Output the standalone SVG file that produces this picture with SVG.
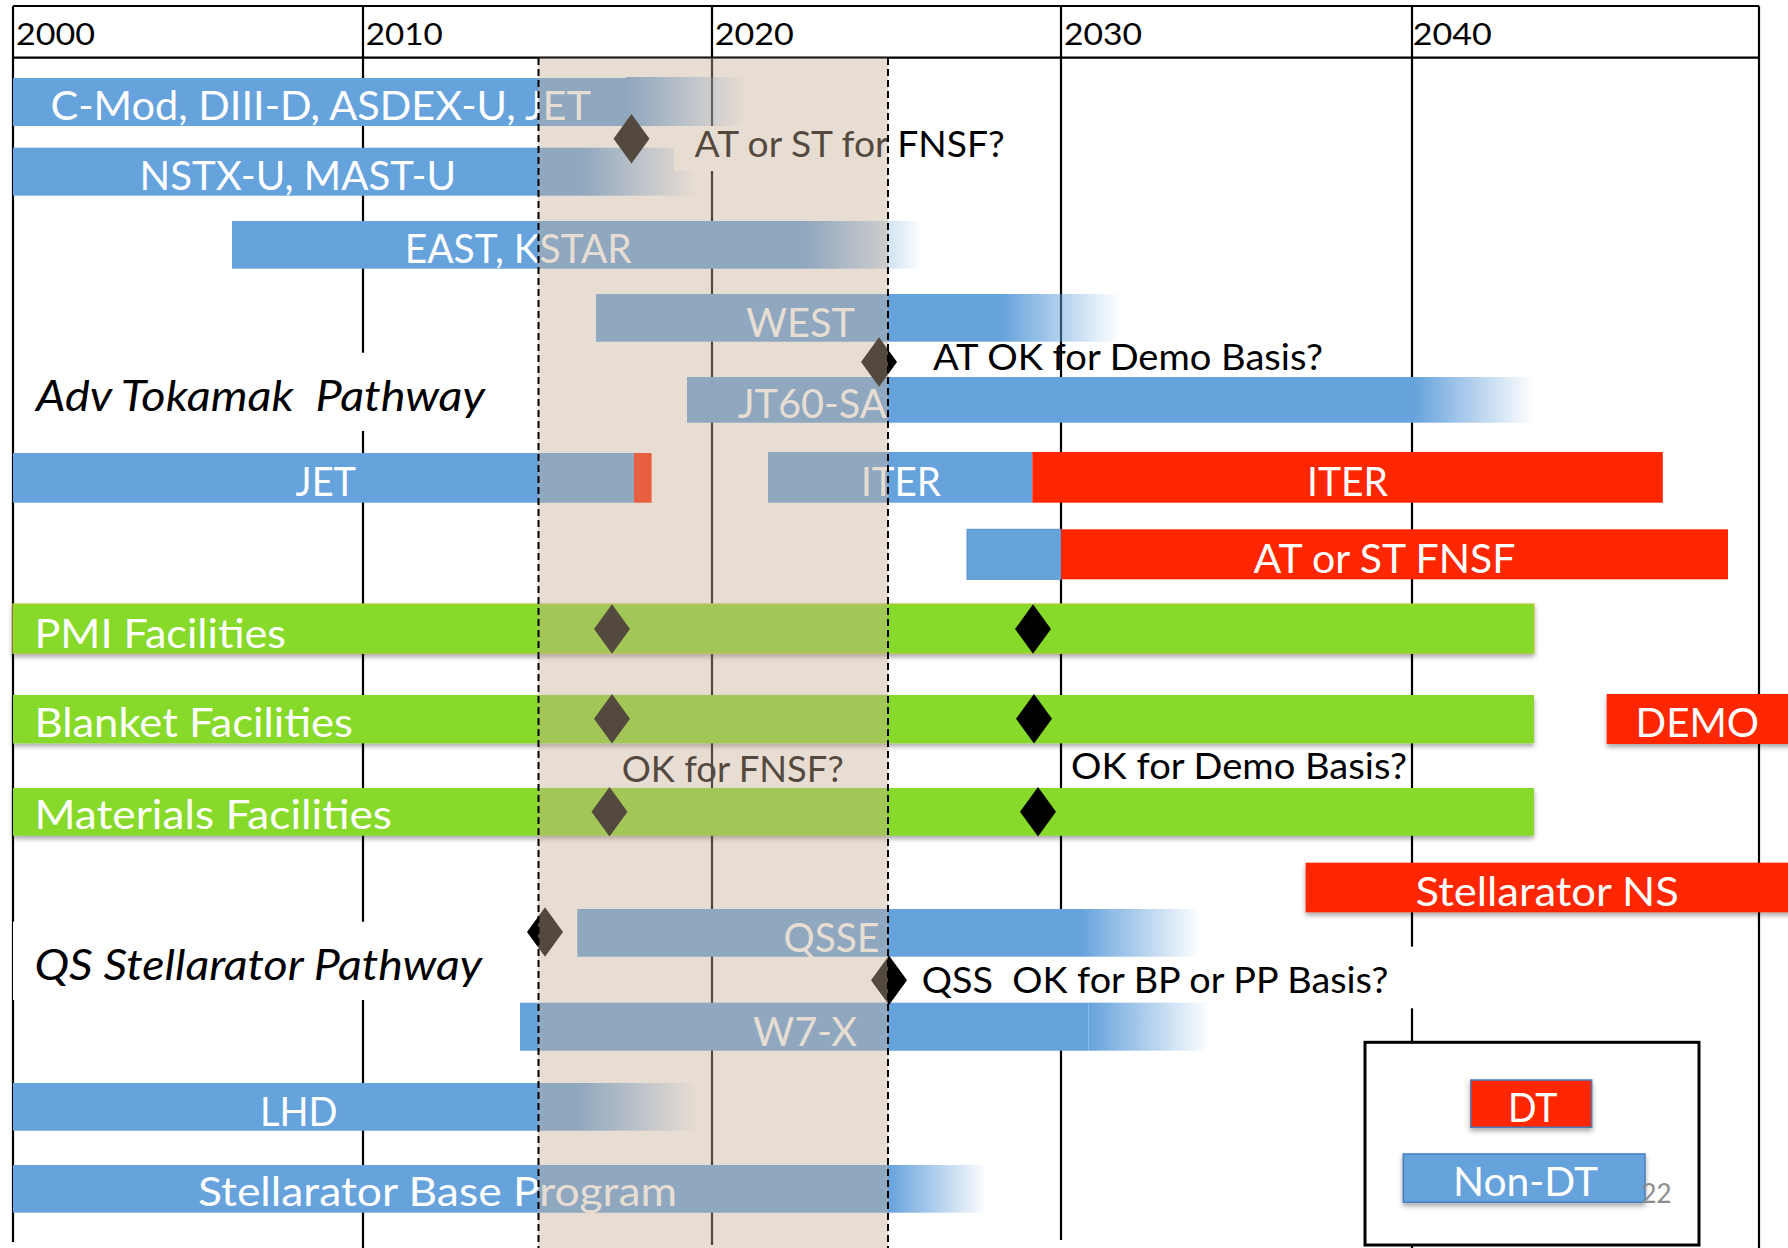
<svg xmlns="http://www.w3.org/2000/svg" xmlns:xlink="http://www.w3.org/1999/xlink" width="1788" height="1248" viewBox="0 0 1788 1248">
<style>
text{font-family:Lato,"Open Sans","Liberation Sans",sans-serif}
.w{fill:#fff;font-size:41px}
.k{fill:#000;font-size:36px}
.yr{fill:#000;font-size:31px}
.it{fill:#000;font-size:43px;font-style:italic}
.blue{fill:#66A2DC}
.red{fill:#FF2600}
.green{fill:#87D92A}
.fade{fill:url(#fade)}
.grid line{stroke:#000;stroke-width:2.2}
.dash{stroke:#000;stroke-width:2;stroke-dasharray:7 4}
.dm{fill:#000}
.sh{filter:url(#shadow)}
</style>
<defs>
<linearGradient id="fade" x1="0" y1="0" x2="1" y2="0">
<stop offset="0" stop-color="#66A2DC" stop-opacity="1"/>
<stop offset="1" stop-color="#66A2DC" stop-opacity="0"/>
</linearGradient>
<filter id="shadow" x="-5%" y="-20%" width="110%" height="150%">
<feDropShadow dx="0" dy="3" stdDeviation="2.5" flood-color="#000" flood-opacity="0.35"/>
</filter>
<path id="diamond" d="M0,-24.7 L18,0 L0,24.7 L-18,0Z"/>
</defs>
<rect width="1788" height="1248" fill="#fff"/>

<g id="grid" class="grid">
<line x1="13" y1="6" x2="1759" y2="6"/>
<line x1="13" y1="57.7" x2="1759" y2="57.7"/>
<line x1="13" y1="6" x2="13" y2="1242"/>
<line x1="363" y1="6" x2="363" y2="1248"/>
<line x1="712" y1="6" x2="712" y2="1245"/>
<line x1="1061" y1="6" x2="1061" y2="1240"/>
<line x1="1412" y1="6" x2="1412" y2="1248"/>
<line x1="1759" y1="6" x2="1759" y2="1248"/>
</g>
<g id="years">
<text class="yr" x="16" y="45" textLength="79" lengthAdjust="spacingAndGlyphs">2000</text>
<text class="yr" x="365.7" y="45" textLength="77" lengthAdjust="spacingAndGlyphs">2010</text>
<text class="yr" x="714.7" y="45" textLength="79" lengthAdjust="spacingAndGlyphs">2020</text>
<text class="yr" x="1064" y="45" textLength="78" lengthAdjust="spacingAndGlyphs">2030</text>
<text class="yr" x="1412.7" y="45" textLength="79" lengthAdjust="spacingAndGlyphs">2040</text>
</g>

<g id="adv-tokamak-label">
<rect x="16" y="352.7" width="484" height="78.3" fill="#fff"/>
<text class="it" x="36" y="410.7" textLength="449" lengthAdjust="spacingAndGlyphs" xml:space="preserve">Adv Tokamak  Pathway</text>
</g>
<g id="qs-stellarator-label">
<rect x="13" y="921.7" width="487" height="78.3" fill="#fff"/>
<text class="it" x="34.4" y="980" textLength="447.6" lengthAdjust="spacingAndGlyphs">QS Stellarator Pathway</text>
</g>
<g id="qss-question-box">
<rect x="890" y="946.7" width="530" height="61.6" fill="#fff"/>
</g>

<g id="bar-cmod">
<rect class="blue" x="13" y="78" width="613" height="48"/>
<rect class="fade" x="626" y="77" width="121" height="49"/>
<text class="w" x="50.5" y="120" textLength="540.5" lengthAdjust="spacingAndGlyphs">C-Mod, DIII-D, ASDEX-U, JET</text>
</g>
<g id="bar-nstx">
<rect class="blue" x="13" y="147.7" width="567" height="48"/>
<rect class="fade" x="580" y="147.7" width="117" height="48"/>
<text class="w" x="139.5" y="190" textLength="316.5" lengthAdjust="spacingAndGlyphs">NSTX-U, MAST-U</text>
</g>
<g id="q-at-st-fnsf">
<rect x="674" y="126" width="341" height="45" fill="#fff"/>
<text class="k" x="694.6" y="157" textLength="310" lengthAdjust="spacingAndGlyphs">AT or ST for FNSF?</text>
</g>
<g id="bar-east">
<rect class="blue" x="232" y="221" width="572" height="47.7"/>
<rect class="fade" x="804" y="221" width="119" height="47.7"/>
<text class="w" x="404.7" y="263" textLength="227" lengthAdjust="spacingAndGlyphs">EAST, KSTAR</text>
</g>
<g id="bar-west">
<rect class="blue" x="596" y="294" width="405" height="47.7"/>
<rect class="fade" x="1001" y="294" width="119" height="47.7"/>
<text class="w" x="746" y="336.7" textLength="109" lengthAdjust="spacingAndGlyphs">WEST</text>
</g>
<g id="q-at-demo">
<text class="k" x="933" y="370" textLength="390" lengthAdjust="spacingAndGlyphs">AT OK for Demo Basis?</text>
</g>
<g id="bar-jt60">
<rect class="blue" x="687" y="377" width="726" height="45.7"/>
<rect class="fade" x="1413" y="377" width="121" height="45.7"/>
<text class="w" x="737.7" y="418.3" textLength="149" lengthAdjust="spacingAndGlyphs">JT60-SA</text>
</g>
<g id="bar-jet">
<rect class="blue" x="13" y="453" width="621" height="49.7"/>
<rect class="red" x="634" y="453" width="17.6" height="49.7"/>
<text class="w" x="295.6" y="496" textLength="60.4" lengthAdjust="spacingAndGlyphs">JET</text>
</g>
<g id="bar-iter">
<rect class="blue" x="768" y="452" width="264.3" height="50.7"/>
<rect class="red" x="1032.3" y="452" width="630.5" height="50.7"/>
<text class="w" x="861" y="496" textLength="80" lengthAdjust="spacingAndGlyphs">ITER</text>
<text class="w" x="1307" y="496" textLength="81" lengthAdjust="spacingAndGlyphs">ITER</text>
</g>
<g id="bar-fnsf">
<rect class="blue" x="967" y="529.3" width="94" height="50" stroke="#5B8FC9" stroke-width="1"/>
<rect class="red" x="1061" y="529.3" width="667" height="50"/>
<text class="w" x="1253.5" y="573.3" textLength="262" lengthAdjust="spacingAndGlyphs">AT or ST FNSF</text>
</g>
<g id="bar-pmi">
<rect class="green sh" x="13" y="604" width="1521" height="49.3" stroke="#B8C93A" stroke-width="1.2"/>
<text class="w" x="34.4" y="648.3" textLength="251.6" lengthAdjust="spacingAndGlyphs">PMI Facilities</text>
</g>
<g id="bar-blanket">
<rect class="green sh" x="13" y="695" width="1521" height="48.3"/>
<text class="w" x="34.4" y="736.7" textLength="318.6" lengthAdjust="spacingAndGlyphs">Blanket Facilities</text>
</g>
<g id="bar-demo">
<rect class="red sh" x="1606.7" y="694" width="190" height="50"/>
<text class="w" x="1635.6" y="736.7" textLength="123.4" lengthAdjust="spacingAndGlyphs">DEMO</text>
</g>
<g id="q-ok-fnsf">
<text class="k" x="621.7" y="781.7" textLength="222" lengthAdjust="spacingAndGlyphs">OK for FNSF?</text>
</g>
<g id="q-ok-demo">
<text class="k" x="1071" y="779.3" textLength="336" lengthAdjust="spacingAndGlyphs">OK for Demo Basis?</text>
</g>
<g id="bar-materials">
<rect class="green sh" x="13" y="788" width="1521" height="47.7"/>
<text class="w" x="34.4" y="829.3" textLength="357.6" lengthAdjust="spacingAndGlyphs">Materials Facilities</text>
</g>
<g id="bar-stellarator-ns">
<rect class="red sh" x="1305.6" y="862.7" width="490" height="49.6"/>
<text class="w" x="1415.6" y="906" textLength="263.4" lengthAdjust="spacingAndGlyphs">Stellarator NS</text>
</g>
<g id="bar-qsse">
<rect class="blue" x="577.3" y="909" width="502.7" height="47.7"/>
<rect class="fade" x="1080" y="909" width="121" height="47.7"/>
<text class="w" x="783.6" y="951.7" textLength="95.8" lengthAdjust="spacingAndGlyphs">QSSE</text>
</g>
<g id="q-qss">
<text class="k" x="921.7" y="992.7" textLength="466.7" lengthAdjust="spacingAndGlyphs" xml:space="preserve">QSS  OK for BP or PP Basis?</text>
</g>
<g id="bar-w7x">
<rect class="blue" x="520" y="1002.7" width="568.5" height="48"/>
<rect class="fade" x="1088.5" y="1002.7" width="121.5" height="48"/>
<text class="w" x="753" y="1045.7" textLength="104" lengthAdjust="spacingAndGlyphs">W7-X</text>
</g>
<g id="bar-lhd">
<rect class="blue" x="13" y="1083" width="564" height="47.7"/>
<rect class="fade" x="577" y="1083" width="120.5" height="47.7"/>
<text class="w" x="260" y="1126" textLength="77.5" lengthAdjust="spacingAndGlyphs">LHD</text>
</g>
<g id="bar-stellarator-base">
<rect class="blue" x="13" y="1165" width="875" height="47.7"/>
<rect class="fade" x="888" y="1165" width="99" height="47.7"/>
<text class="w" x="198" y="1206" textLength="479" lengthAdjust="spacingAndGlyphs">Stellarator Base Program</text>
</g>

<g id="milestones" class="dm">
<use href="#diamond" x="631.5" y="138.7"/>
<use href="#diamond" x="879" y="362"/>
<use href="#diamond" x="612" y="629"/>
<use href="#diamond" x="1033" y="629"/>
<use href="#diamond" x="612" y="718.8"/>
<use href="#diamond" x="1034" y="718.8"/>
<use href="#diamond" x="609.5" y="811.7"/>
<use href="#diamond" x="1038" y="811.7"/>
<use href="#diamond" x="545" y="932"/>
<use href="#diamond" x="889" y="980.3"/>
</g>

<g id="window-overlay">
<rect x="538" y="57.7" width="350" height="1190.3" fill="rgb(200,175,151)" fill-opacity="0.42"/>
<line class="dash" x1="538.5" y1="58" x2="538.5" y2="1248"/>
<line class="dash" x1="888" y1="58" x2="888" y2="1248"/>
</g>

<g id="legend">
<rect x="1365" y="1042.3" width="334" height="202.7" fill="#fff" stroke="#000" stroke-width="3"/>
<g id="legend-dt">
<rect class="red sh" x="1470.7" y="1080" width="121" height="47.3" stroke="#4A7EBB" stroke-width="1.5"/>
<text class="w" x="1508" y="1121.7" textLength="49.5" lengthAdjust="spacingAndGlyphs">DT</text>
</g>
<g id="legend-nondt">
<rect class="blue sh" x="1403.3" y="1154" width="241.7" height="48.3" stroke="#4A7EBB" stroke-width="1.5"/>
<text class="w" x="1453" y="1196" textLength="145" lengthAdjust="spacingAndGlyphs">Non-DT</text>
</g>
</g>
<text x="1641.5" y="1203" font-size="26" fill="#8C8C8C" textLength="30" lengthAdjust="spacingAndGlyphs">22</text>
<g id="connectors"/>
</svg>
